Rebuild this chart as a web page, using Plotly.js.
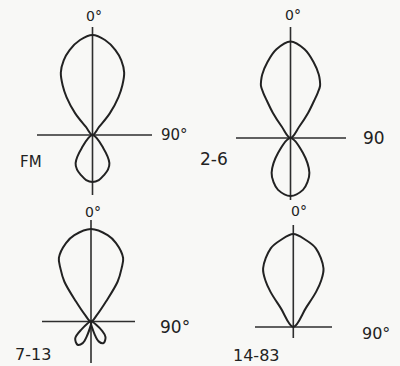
<!DOCTYPE html>
<html><head><meta charset="utf-8">
<script src="https://cdn.plot.ly/plotly-3.0.1.min.js"></script>
<style>html,body{margin:0;padding:0;background:#f8f8f6;}#chart{width:400px;height:366px;}</style>
</head><body><div id="chart"></div>
<script>
// Relative field-strength patterns: angle in degrees (0 = up, clockwise), gain relative to main lobe
const fmMainAngle = [-40,-39.3,-38.5,-34.4,-31,-26.9,-21.1,-15.1,-7.5,0,7.5,15.1,21.1,26.9,31,34.4,38.5,39.3,40];
const fmMainGain  = [0,0.107,0.28,0.46,0.58,0.70,0.80,0.88,0.958,1.00,0.958,0.88,0.80,0.70,0.58,0.46,0.28,0.107,0];
const fmBackAngle = [135,140.5,149,156,164,172,180,188,196,204,211,219.5,225];
const fmBackGain  = [0,0.168,0.328,0.38,0.417,0.455,0.47,0.455,0.417,0.38,0.328,0.168,0];

const ch26MainAngle = [-42,-37.6,-35,-32.3,-31,-29.6,-27,-24,-17,-9,0,9,17,24,27,29.6,31,32.3,35,37.6,42];
const ch26MainGain  = [0,0.15,0.32,0.46,0.55,0.62,0.67,0.72,0.82,0.93,1.00,0.93,0.82,0.72,0.67,0.62,0.55,0.46,0.32,0.15,0];
const ch26BackAngle = [135,140.2,151.5,159,166.5,180,193.5,201,208.5,219.8,225];
const ch26BackGain  = [0,0.20,0.41,0.49,0.553,0.60,0.553,0.49,0.41,0.20,0];

const ch713MainAngle = [-45,-41.8,-36.9,-33.7,-30,-26.8,-17.7,-10.9,0,10.9,17.7,26.8,30,33.7,36.9,41.8,45];
const ch713MainGain  = [0,0.10,0.27,0.52,0.66,0.77,0.89,0.95,1.00,0.95,0.89,0.77,0.66,0.52,0.27,0.10,0];
const ch713LeftAngle = [190,196,201,210,223,230,237];
const ch713LeftGain  = [0,0.17,0.25,0.29,0.25,0.14,0];
const ch713RightAngle = [123,130,137,150,159,164,170];
const ch713RightGain  = [0,0.16,0.23,0.27,0.23,0.15,0];

const ch1483MainAngle = [-34,-33.5,-33,-31,-27.2,-16,-8.2,0,8.2,16,27.2,31,33,33.5,34];
const ch1483MainGain  = [0,0.25,0.45,0.58,0.71,0.88,0.945,1.00,0.945,0.88,0.71,0.58,0.45,0.25,0];

const bandLabels = ['FM','2-6','7-13','14-83'];
const topLabels = ['0°','0°','0°','0°'];
const sideLabels = ['90°','90','90°','90°'];

// Layout of the four panels (pixel geometry)
const W = 400, H = 366;
const panels = [
  {lobes:[[fmMainAngle,fmMainGain],[fmBackAngle,fmBackGain]], cx:92.5, cy:135, s:100, hL:37, hR:152, vT:27, vB:195,
   top:[94,16,14], side:[174,135,15], band:[30.5,162,15]},
  {lobes:[[ch26MainAngle,ch26MainGain],[ch26BackAngle,ch26BackGain]], cx:290.5, cy:138, s:96.5, hL:236, hR:346, vT:27, vB:200,
   top:[293,15,14], side:[374,138,17], band:[214,159,17]},
  {lobes:[[ch713MainAngle,ch713MainGain],[ch713LeftAngle,ch713LeftGain],[ch713RightAngle,ch713RightGain]], cx:91, cy:321.5, s:92.5, hL:42, hR:135, vT:220, vB:363,
   top:[93,211.5,14], side:[175,327,17], band:[33,354,16]},
  {lobes:[[ch1483MainAngle,ch1483MainGain]], cx:293.3, cy:327, s:93, hL:255, hR:332, vT:225, vB:338,
   top:[299,211,14], side:[376,333,16], band:[256,355.5,16]}
];

const ink = '#222';
const traces = [];
const layout = {
  width: W, height: H, margin:{l:0,r:0,t:0,b:0},
  paper_bgcolor:'#f8f8f6', plot_bgcolor:'rgba(0,0,0,0)',
  showlegend:false, annotations:[], shapes:[],
  font:{family:'DejaVu Sans, sans-serif', color:ink}
};
const rad = Math.PI/180;
panels.forEach((p, i) => {
  const n = i === 0 ? '' : String(i+1);
  p.lobes.forEach(([ang, g]) => {
    traces.push({
      type:'scatter', mode:'lines', xaxis:'x'+n, yaxis:'y'+n,
      x: ang.map((a,k) => g[k]*Math.sin(a*rad)),
      y: ang.map((a,k) => g[k]*Math.cos(a*rad)),
      line:{color:ink, width:2, shape:'spline', smoothing:1},
      hoverinfo:'skip', cliponaxis:false
    });
  });
  const ax = {
    showgrid:false, showticklabels:false, ticks:'', showline:false,
    zeroline:false, fixedrange:true
  };
  const xr = [(p.hL-p.cx)/p.s, (p.hR-p.cx)/p.s];
  const yr = [(p.cy-p.vB)/p.s, (p.cy-p.vT)/p.s];
  layout['xaxis'+n] = Object.assign({}, ax, {domain:[p.hL/W, p.hR/W], range:xr, anchor:'y'+n});
  layout['yaxis'+n] = Object.assign({}, ax, {domain:[1-p.vB/H, 1-p.vT/H], range:yr, anchor:'x'+n});
  const axLine = {color:'#2e2e2e', width:1.6};
  layout.shapes.push(
    {type:'line', xref:'x'+n, yref:'y'+n, x0:0, x1:0, y0:yr[0], y1:yr[1], line:axLine, layer:'below'},
    {type:'line', xref:'x'+n, yref:'y'+n, y0:0, y1:0, x0:xr[0], x1:xr[1], line:axLine, layer:'below'}
  );
  [[topLabels[i], p.top],[sideLabels[i], p.side],[bandLabels[i], p.band]].forEach(([t, pos]) => {
    layout.annotations.push({
      text:t, xref:'paper', yref:'paper', x:pos[0]/W, y:1-pos[1]/H,
      xanchor:'center', yanchor:'middle', showarrow:false, borderpad:0,
      font:{size:pos[2], color:ink, family:'DejaVu Sans, sans-serif'}
    });
  });
});

Plotly.newPlot('chart', traces, layout, {displayModeBar:false, staticPlot:true});
</script></body></html>
